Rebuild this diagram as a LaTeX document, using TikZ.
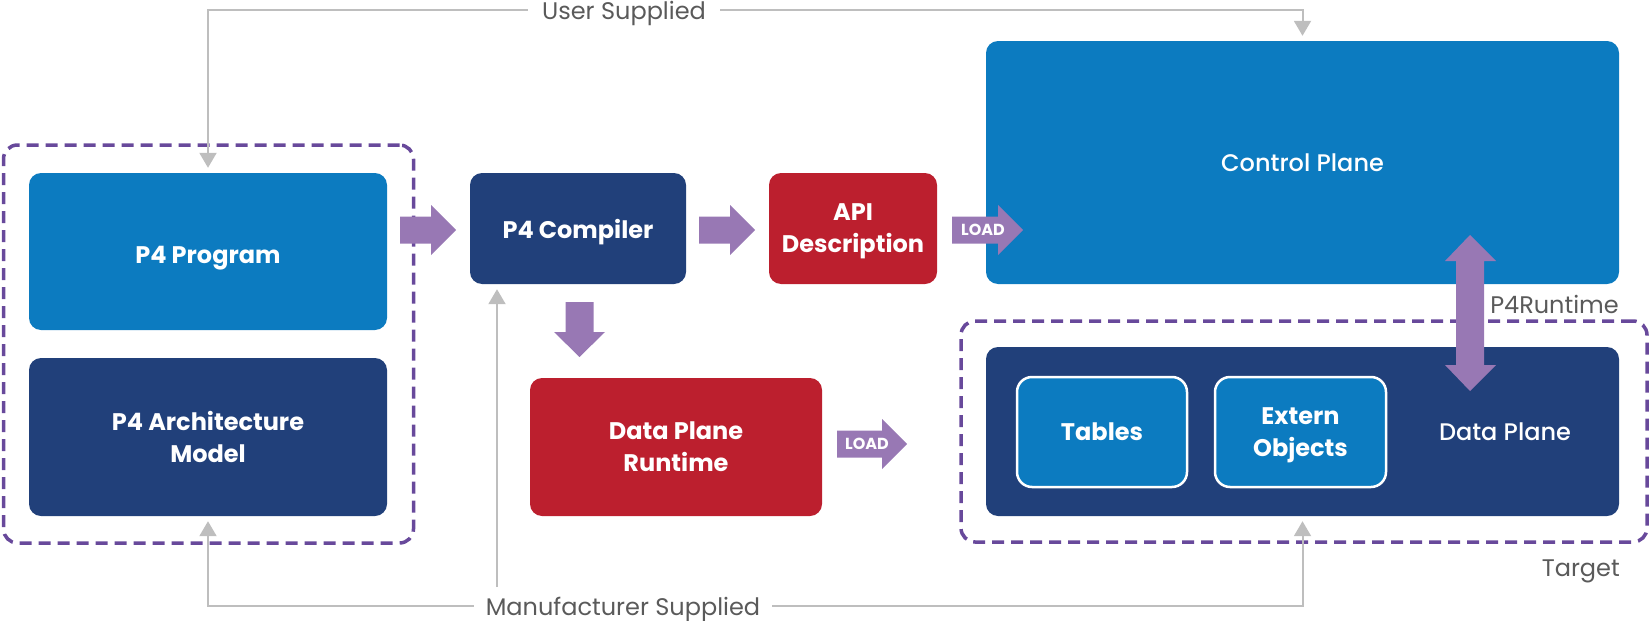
\documentclass[tikz,border=0pt]{standalone}
\usepackage{fontspec}
\setmainfont{Poppins}
\newfontfamily\medfont{Poppins}[UprightFont=* Medium]
\usetikzlibrary{arrows.meta,calc}
\definecolor{lblue}{HTML}{0C7BC0}
\definecolor{navy}{HTML}{21407A}
\definecolor{cred}{HTML}{BC1F2E}
\definecolor{parrow}{HTML}{9878B4}
\definecolor{pdash}{HTML}{68499B}
\definecolor{gline}{HTML}{BEBEBE}
\definecolor{gtext}{HTML}{5A5A5A}
\begin{document}
\begin{tikzpicture}[x=1pt,y=-1pt,
 box/.style={rectangle, rounded corners=12pt, inner sep=0pt, text=white, align=center, text depth=0pt, font=\bfseries\fontsize{24}{32}\selectfont},
 bluebox/.style={box, fill=lblue},
 navybox/.style={box, fill=navy},
 redbox/.style={box, fill=cred},
 innerbox/.style={box, fill=lblue, draw=white, line width=2.5pt, rounded corners=15pt},
 dashbox/.style={draw=pdash, line width=3.5pt, dash pattern=on 12pt off 7pt, rounded corners=14pt, inner sep=0pt},
 glabel/.style={text=gtext, font=\fontsize{24}{28}\selectfont, inner sep=0pt, text depth=0pt},
 gconn/.style={draw=gline, line width=2pt, -{Triangle[width=17pt,length=15pt]}, shorten >=5pt},
 parr/.style={fill=parrow},
 loadtxt/.style={text=white, font=\bfseries\fontsize{16}{18}\selectfont, inner sep=0pt}
]
\useasboundingbox (0,0) rectangle (1650,621);

% dashed groups
\node[dashbox, minimum width=410pt, minimum height=398pt] (grpL) at (208.5,344) {};
\node[dashbox, minimum width=686pt, minimum height=221pt] (grpT) at (1304,431.5) {};

% boxes
\node[bluebox, minimum width=358pt, minimum height=157pt, text height=24pt] (prog) at (208,251.5) {P4 Program};
\node[navybox, minimum width=358pt, minimum height=158pt] (arch) at (208,437) {P4 Architecture\\Model};
\node[navybox, minimum width=216pt, minimum height=111pt] (comp) at (578,228.5) {P4 Compiler};
\node[redbox, minimum width=168pt, minimum height=111pt] (api) at (853,228.5) {API\\Description};
\node[bluebox, minimum width=633pt, minimum height=243pt, font=\medfont\fontsize{24}{32}\selectfont] (ctrl) at (1302.5,162.5) {Control Plane};
\node[redbox, minimum width=292pt, minimum height=138pt] (rt) at (676,447) {Data Plane\\Runtime};
\node[navybox, minimum width=633pt, minimum height=169pt] (dp) at (1302.5,431.5) {};
\node[innerbox, minimum width=170pt, minimum height=110pt] (tab) at (1102,432) {Tables};
\node[innerbox, minimum width=171pt, minimum height=110pt] (ext) at (1300.5,432) {Extern\\Objects};
\node[text=white, inner sep=0pt, text depth=0pt, font=\medfont\fontsize{24}{32}\selectfont] (dpl) at (1505,432) {Data Plane};

% gray labels
\node[glabel, inner xsep=14pt] (us) at (624,10) {User Supplied};
\node[glabel, inner xsep=12pt] (ms) at (623,606) {Manufacturer Supplied};
\node[glabel, anchor=east] (p4rt) at (1619,304) {P4Runtime};
\node[glabel, anchor=east] (tgt) at (1620,568) {Target};

% gray connectors
\draw[gconn] (us.west) -| (prog.north);
\draw[gconn] (us.east) -| (ctrl.north);
\draw[gconn] (ms.west) -| (arch.south);
\draw[gconn] (ms.east) -| (dp.south);
\coordinate (mc) at (497,587);
\draw[gconn] (mc) -- (mc |- comp.south);

% purple block arrows
\fill[parr] (400,216.5) -- (431,216.5) -- (431,205) -- (456,230) -- (431,255) -- (431,243.5) -- (400,243.5) -- cycle;
\fill[parr] (699,216.5) -- (730,216.5) -- (730,205) -- (755,230) -- (730,255) -- (730,243.5) -- (699,243.5) -- cycle;
\fill[parr] (565.5,302) -- (593.5,302) -- (593.5,332) -- (605,332) -- (579.5,357) -- (554,332) -- (565.5,332) -- cycle;
\fill[parr] (952,216.5) -- (998,216.5) -- (998,205) -- (1023,230) -- (998,255) -- (998,243.5) -- (952,243.5) -- cycle;
\node[loadtxt] (load1) at (983,230) {LOAD};
\fill[parr] (837,430.5) -- (882,430.5) -- (882,419) -- (907,444) -- (882,469) -- (882,457.5) -- (837,457.5) -- cycle;
\node[loadtxt] (load2) at (867,444) {LOAD};
\fill[parr] (1470,235) -- (1496,261) -- (1484,261) -- (1484,365) -- (1496,365) -- (1470,391) -- (1445,365) -- (1456,365) -- (1456,261) -- (1445,261) -- cycle;
\end{tikzpicture}
\end{document}
